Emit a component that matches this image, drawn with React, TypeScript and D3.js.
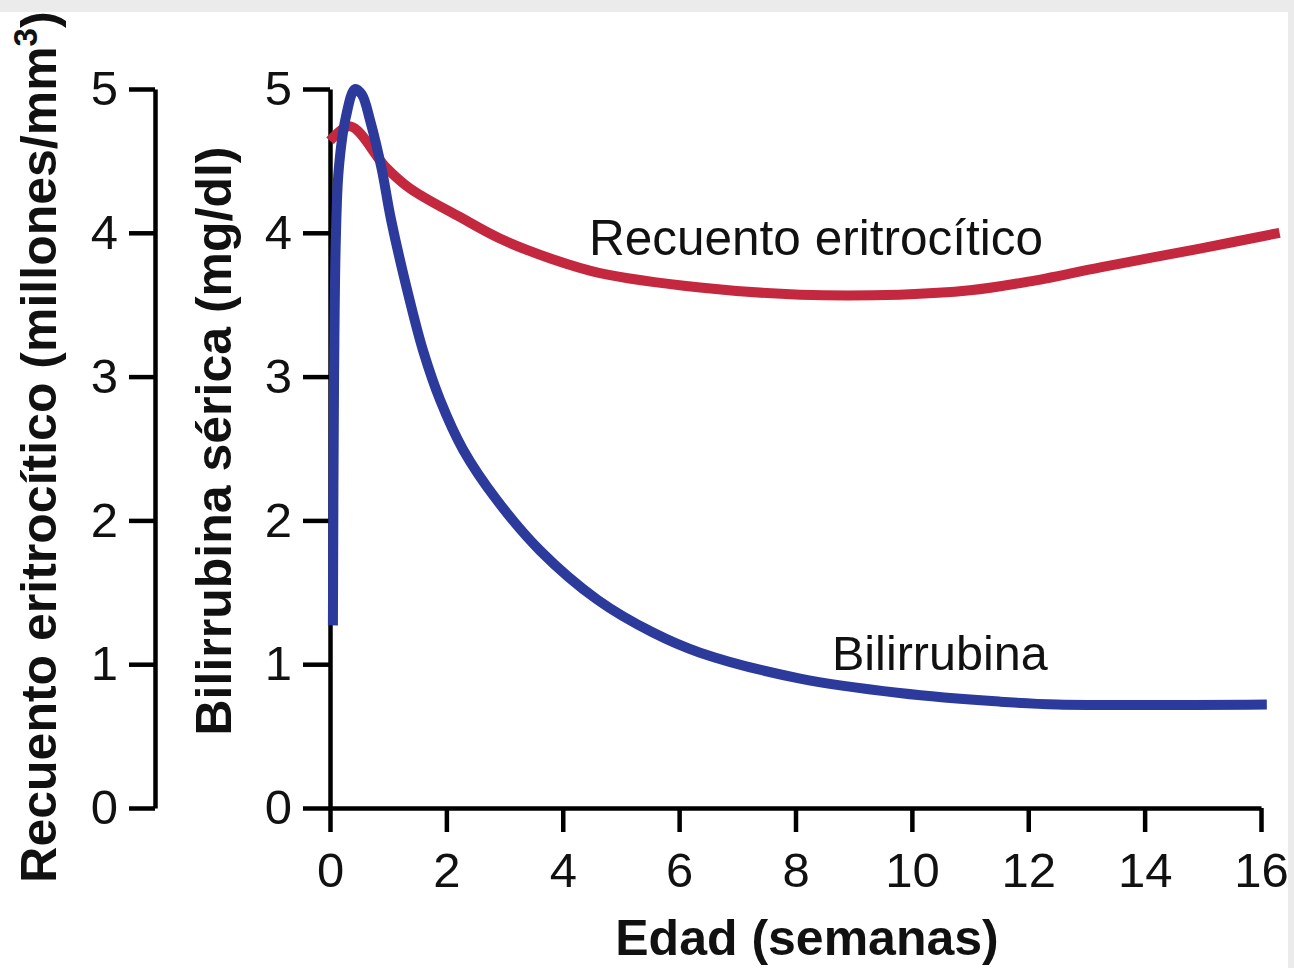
import React, { useEffect, useRef } from "react";
import * as d3 from "d3";

const W = 1294;
const H = 968;

const xTicks = [0, 2, 4, 6, 8, 10, 12, 14, 16];
const yTicks = [0, 1, 2, 3, 4, 5];

const redWeeks = [0, 0.35, 0.95, 1.37, 2.23, 2.92, 3.8, 4.64, 6.36, 8.08, 9.79, 11.0, 12.0, 13.24, 14.95, 16.32];
const redValues = [4.64, 4.74, 4.46, 4.31, 4.11, 3.96, 3.82, 3.72, 3.62, 3.57, 3.57, 3.6, 3.66, 3.76, 3.89, 4.0];

const blueWeeks = [0.05, 0.07, 0.1, 0.15, 0.27, 0.43, 0.55, 0.69, 0.89, 1.05, 1.37, 1.6, 1.89, 2.29, 2.87, 3.61, 4.59, 5.55, 6.36, 8.08, 9.79, 11.5, 12.5, 16.1];
const blueValues = [1.27, 3.0, 3.95, 4.44, 4.8, 5.0, 4.96, 4.78, 4.44, 4.09, 3.53, 3.18, 2.84, 2.49, 2.14, 1.79, 1.45, 1.22, 1.08, 0.9, 0.8, 0.74, 0.72, 0.72];

const FONT = "'Liberation Sans', Arial, Helvetica, sans-serif";

export default function App() {
  const ref = useRef<SVGSVGElement | null>(null);

  useEffect(() => {
    const svg = d3.select(ref.current);
    svg.selectAll("*").remove();

    const x = d3.scaleLinear().domain([0, 16]).range([330, 1261]);
    const y = d3.scaleLinear().domain([0, 5]).range([808, 89]);

    // background + gray frame
    svg.append("rect").attr("width", W).attr("height", H).attr("fill", "#ffffff");
    svg.append("rect").attr("x", 0).attr("y", 0).attr("width", W).attr("height", 12).attr("fill", "#ebebeb");
    svg.append("rect").attr("x", 1288).attr("y", 0).attr("width", 6).attr("height", H).attr("fill", "#ebebeb");

    const styleAxis = (g: any) => {
      g.selectAll("path").attr("stroke", "#000").attr("stroke-width", 4.5);
      g.selectAll("line").attr("stroke", "#000").attr("stroke-width", 4.5);
      g.selectAll("text")
        .attr("font-family", FONT)
        .attr("font-size", 49)
        .attr("fill", "#111");
      g.attr("font-family", null).attr("font-size", null);
    };

    // left axis (RBC)
    const gL = svg.append("g").attr("transform", "translate(155,0)")
      .call(d3.axisLeft(y).tickValues(yTicks).tickFormat(d3.format("d")).tickSize(26).tickSizeOuter(0).tickPadding(11));
    styleAxis(gL);

    // right axis (bilirubin)
    const gR = svg.append("g").attr("transform", "translate(330,0)")
      .call(d3.axisLeft(y).tickValues(yTicks).tickFormat(d3.format("d")).tickSize(27).tickSizeOuter(0).tickPadding(11));
    styleAxis(gR);

    // x axis
    const gX = svg.append("g").attr("transform", "translate(0,808)")
      .call(d3.axisBottom(x).tickValues(xTicks).tickFormat(d3.format("d")).tickSize(24).tickSizeOuter(0).tickPadding(20));
    styleAxis(gX);

    const line = d3.line<[number, number]>()
      .x((d) => x(d[0]))
      .y((d) => y(d[1]))
      .curve(d3.curveCatmullRom.alpha(0.5));

    const red: [number, number][] = redWeeks.map((w, i) => [w, redValues[i]]);
    const blue: [number, number][] = blueWeeks.map((w, i) => [w, blueValues[i]]);

    svg.append("path").attr("d", line(red) as string)
      .attr("fill", "none").attr("stroke", "#c4283f").attr("stroke-width", 10);
    svg.append("path").attr("d", line(blue) as string)
      .attr("fill", "none").attr("stroke", "#2b3a9b").attr("stroke-width", 10);

    // series labels
    svg.append("text").attr("x", 589).attr("y", 255)
      .attr("font-family", FONT).attr("font-size", 49.5).attr("fill", "#111")
      .text("Recuento eritrocítico");
    svg.append("text").attr("x", 832).attr("y", 670)
      .attr("font-family", FONT).attr("font-size", 48.5).attr("fill", "#111")
      .text("Bilirrubina");

    // axis titles
    svg.append("text").attr("x", 807).attr("y", 955)
      .attr("text-anchor", "middle")
      .attr("font-family", FONT).attr("font-size", 50).attr("font-weight", "bold").attr("fill", "#111")
      .text("Edad (semanas)");

    const t1 = svg.append("text")
      .attr("transform", "translate(56,447) rotate(-90)")
      .attr("text-anchor", "middle")
      .attr("font-family", FONT).attr("font-size", 50).attr("font-weight", "bold").attr("fill", "#111");
    t1.append("tspan").text("Recuento eritrocítico (millones/mm");
    t1.append("tspan").attr("font-size", 33).attr("dy", -19).text("3");
    t1.append("tspan").attr("dy", 19).text(")");

    svg.append("text")
      .attr("transform", "translate(231,441) rotate(-90)")
      .attr("text-anchor", "middle")
      .attr("font-family", FONT).attr("font-size", 50).attr("font-weight", "bold").attr("fill", "#111")
      .text("Bilirrubina sérica (mg/dl)");
  }, []);

  return (
    <div style={{ position: "absolute", left: 0, top: 0 }}>
      <svg ref={ref} width={W} height={H} style={{ display: "block" }} />
    </div>
  );
}
